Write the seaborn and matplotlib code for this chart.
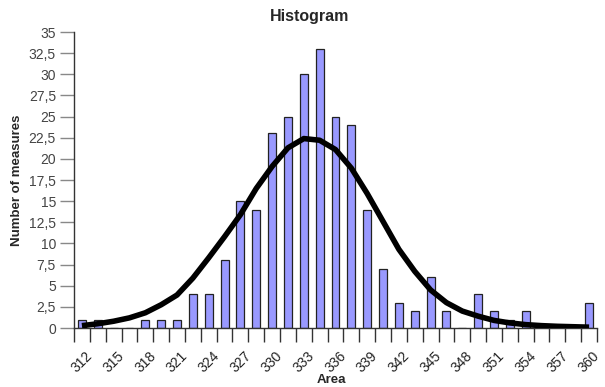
import matplotlib
matplotlib.use("Agg")
import matplotlib.pyplot as plt
import seaborn as sns
import numpy as np
import pandas as pd

# Bin centres (Area) and counts
area = [312, 313.5, 315, 316.5, 318, 319.5, 321, 322.5, 324, 325.5, 327, 328.5,
        330, 331.5, 333, 334.5, 336, 337.5, 339, 340.5, 342, 343.5, 345, 346.5,
        348, 349.5, 351, 352.5, 354, 355.5, 357, 358.5, 360]
counts = [1, 1, 0, 0, 1, 1, 1, 4, 4, 8, 15, 14, 23, 25, 30, 33, 25, 24, 14, 7,
          3, 2, 6, 2, 0, 4, 2, 1, 2, 0, 0, 0, 3]
# Fitted normal curve, read at each bin centre
curve = [0.28, 0.5, 0.8, 1.2, 1.8, 2.75, 3.9, 5.9, 8.3, 10.8, 13.4, 16.5,
         19.1, 21.3, 22.4, 22.2, 21.1, 18.9, 15.9, 12.6, 9.3, 6.7, 4.5, 3.0,
         2.0, 1.4, 0.9, 0.6, 0.4, 0.28, 0.2, 0.15, 0.1]
yticks = [0, 2.5, 5, 7.5, 10, 12.5, 15, 17.5, 20, 22.5, 25, 27.5, 30, 32.5, 35]

sns.set_theme(style="white")
plt.rcParams['font.family'] = ['Liberation Sans', 'DejaVu Sans']

fig = plt.figure(figsize=(6.05, 3.87), dpi=100)
ax = fig.add_axes([74/605, 1 - 328/387, (597-74)/605, (328-32)/387])

labels = [f"{a:g}" for a in area]
df = pd.DataFrame({"area": labels, "count": counts, "pos": np.arange(len(area)), "curve": curve})
sns.barplot(data=df, x="area", y="count", color="#9999FF", saturation=1,
            width=0.5, edgecolor="#222222", linewidth=0.9, ax=ax, zorder=2)
sns.lineplot(data=df, x="pos", y="curve", color="black", linewidth=4,
             ax=ax, zorder=3, solid_capstyle="butt")

n = len(area)
ax.set_xlim(-0.5, n - 0.5)
ax.set_ylim(0, 35)
ax.set_yticks(yticks)
ax.set_yticklabels([f"{v:g}".replace(".", ",") for v in yticks],
                   color="#444444", fontsize=10)

major = [i for i, a in enumerate(area) if float(a).is_integer() and int(a) % 3 == 0]
ax.set_xticks(major)
ax.set_xticklabels([f"{area[i]:g}" for i in major], rotation=45, ha="center",
                   va="top", fontsize=10, color="#222222")
ax.set_xticks(np.arange(n + 1) - 0.5, minor=True)
ax.tick_params(axis="x", which="major", length=0, pad=15)
ax.tick_params(axis="x", which="minor", length=10, width=1, color="#333333", direction="out", bottom=True)
ax.tick_params(axis="y", which="major", length=10, width=1, color="#888888", direction="out", left=True, pad=3)

for s in ["top", "right"]:
    ax.spines[s].set_visible(False)
ax.spines["left"].set_color("#333333")
ax.spines["bottom"].set_color("#333333")
ax.spines["left"].set_linewidth(1)
ax.spines["bottom"].set_linewidth(1)

ax.set_xlabel("")
fig.text(331/605, 1 - 380/387, "Area", ha="center", va="center",
         fontsize=9.5, fontweight="bold")
ax.set_ylabel("Number of measures", fontsize=9.5, fontweight="bold", labelpad=4)
fig.text(310/605, 1 - 17/387, "Histogram", ha="center", va="center",
         fontsize=11.5, fontweight="bold")

fig.savefig("out.png", dpi=100)
